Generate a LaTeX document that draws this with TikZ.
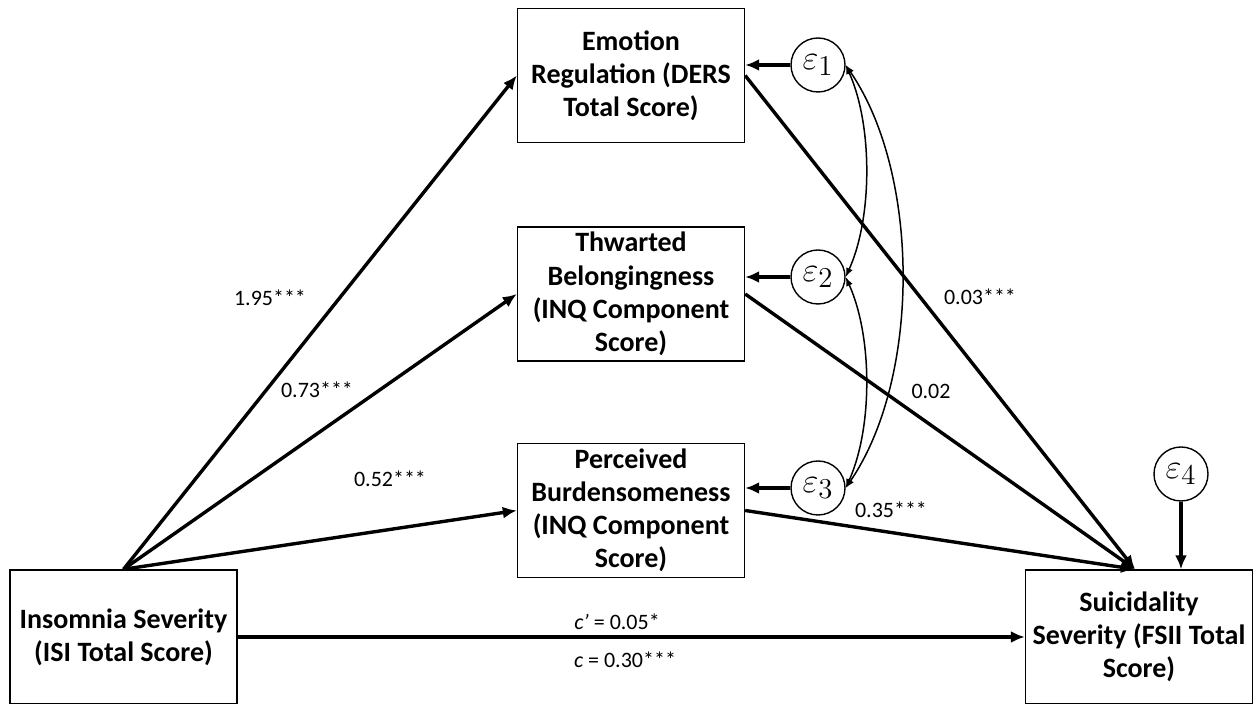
\documentclass[tikz,border=0pt]{standalone}
\usepackage{fontspec}
\setmainfont{Carlito}
\usetikzlibrary{arrows.meta}
\begin{document}
\begin{tikzpicture}[x=0.5pt,y=-0.5pt,
  box/.style={draw,line width=0.7pt,minimum width=113.5pt,minimum height=67pt,inner sep=0pt,align=center,font=\fontsize{14}{16.6}\selectfont\bfseries},
  err/.style={draw,circle,line width=0.7pt,minimum size=27pt,inner sep=0pt,font=\fontsize{19}{19}\selectfont},
  path/.style={line width=1.7pt,-{Latex[length=7pt,width=6pt]}},
  cov/.style={line width=0.75pt,{Latex[length=4.5pt,width=3.5pt]}-{Latex[length=4.5pt,width=3.5pt]}},
  lab/.style={font=\fontsize{11}{12}\selectfont,inner sep=0pt}]
\useasboundingbox (0,0) rectangle (1260,704);
\node[box] (er) at (631,75.5) {Emotion\\Regulation (DERS\\Total Score)};
\node[box] (tb) at (631,294) {Thwarted\\Belongingness\\(INQ Component\\Score)};
\node[box] (pb) at (631,510.5) {Perceived\\Burdensomeness\\(INQ Component\\Score)};
\node[box] (ins) at (123.5,637) {Insomnia Severity\\(ISI Total Score)};
\node[box] (ss) at (1139,637) {Suicidality\\Severity (FSII Total\\Score)};
\node[err] (e1) at (818,65) {$\varepsilon_1$};
\node[err] (e2) at (818,277) {$\varepsilon_2$};
\node[err] (e3) at (818,488) {$\varepsilon_3$};
\node[err] (e4) at (1181,474) {$\varepsilon_4$};
\draw[path] (ins.north) -- (er.west);
\draw[path] (ins.north) -- (tb.west);
\draw[path] (ins.north) -- (pb.west);
\draw[path] (er.east) -- ([xshift=-2pt]ss.north);
\draw[path] (tb.east) -- ([xshift=-2pt]ss.north);
\draw[path] (pb.east) -- ([xshift=-2pt]ss.north);
\draw[path] (ins.east) -- (ss.west);
\draw[path] (e4.south) -- (ss.north -| e4.south);
\draw[path] (e1.west) -- (e1.west -| er.east);
\draw[path] (e2.west) -- (e2.west -| tb.east);
\draw[path] (e3.west) -- (e3.west -| pb.east);
\draw[cov] (e1.east) .. controls +(27,60) and +(27,-60) .. (e2.east);
\draw[cov] (e2.east) .. controls +(27,60) and +(27,-60) .. (e3.east);
\draw[cov] (e1.east) .. controls +(75,110) and +(75,-110) .. (e3.east);
\node[lab] (l1) at (270,298) {1.95***};
\node[lab] (l2) at (317,390) {0.73***};
\node[lab] (l3) at (390,479) {0.52***};
\node[lab] (l4) at (980,297) {0.03***};
\node[lab] (l5) at (931,391) {0.02};
\node[lab] (l6) at (891,510) {0.35***};
\node[lab] (l7) at (617,622) {\textit{c’} = 0.05*};
\node[lab] (l8) at (625,660) {\textit{c} = 0.30***};
\end{tikzpicture}
\end{document}
